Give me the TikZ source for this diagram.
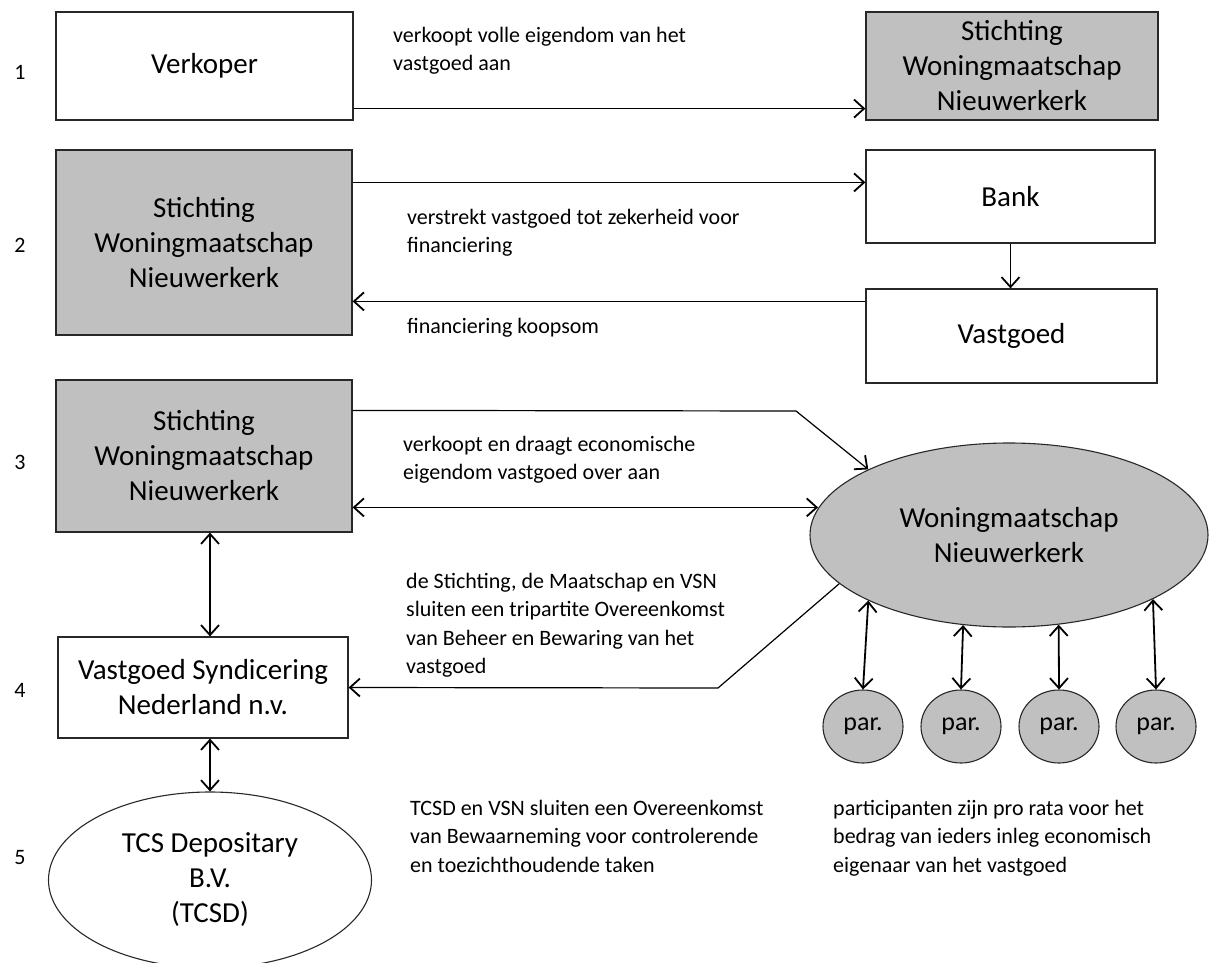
\documentclass[tikz,border=0pt]{standalone}
\usepackage{fontspec}
\setmainfont{Carlito}
\usetikzlibrary{arrows.meta,shapes.geometric}
\definecolor{boxgray}{RGB}{192,192,192}
\definecolor{edge}{RGB}{40,40,40}
\begin{document}
\begin{tikzpicture}[x=1pt,y=-1pt,
  bigfont/.style={font=\fontsize{29}{35}\selectfont},
  box/.style={rectangle, draw=edge, line width=1.2pt, inner sep=0pt, align=center, bigfont, fill=white},
  graybox/.style={box, fill=boxgray},
  oval/.style={ellipse, draw=edge, line width=1.1pt, inner sep=0pt, align=center, bigfont},
  lbl/.style={anchor=north west, align=left, inner sep=0pt, font=\fontsize{22}{28.3}\selectfont},
  num/.style={inner sep=0pt, font=\fontsize{22}{26}\selectfont},
  tip/.style={},
  arr/.style={line width=1.8pt, -{Straight Barb[length=10pt,width=18pt,line width=1.8pt]}},
  arrthin/.style={line width=1.2pt, -{Straight Barb[length=10pt,width=18pt,line width=1.8pt]}},
  dbl/.style={line width=1.8pt, {Straight Barb[length=10pt,width=18pt,line width=1.8pt]}-{Straight Barb[length=10pt,width=18pt,line width=1.8pt]}}
]
\useasboundingbox[fill=white] (0,0) rectangle (1210,963);

% row numbers
\node[num] (n1) at (20,72) {1};
\node[num] (n2) at (20,245) {2};
\node[num] (n3) at (20,462) {3};
\node[num] (n4) at (20,690) {4};
\node[num] (n5) at (20,858) {5};

% row 1
\node[box, minimum width=297pt, minimum height=108pt] (verk) at (204.5,66) {Verkoper};
\node[graybox, minimum width=292pt, minimum height=108pt] (st1) at (1012,66) {Stichting\\Woningmaatschap\\Nieuwerkerk};
\draw[arr] ([yshift=12pt]verk.south east) -- ([yshift=12pt]st1.south west);
\node[lbl] (l1) at (393,27) {verkoopt volle eigendom van het\\vastgoed aan};

% row 2
\node[graybox, minimum width=296pt, minimum height=185pt] (st2) at (204,242.5) {Stichting\\Woningmaatschap\\Nieuwerkerk};
\node[box, minimum width=289pt, minimum height=93pt] (bank) at (1010.5,196.5) {Bank};
\node[box, minimum width=291pt, minimum height=94pt] (vast) at (1011.5,336) {Vastgoed};
\draw[arr] ([yshift=-33pt]st2.north east) -- ([yshift=-33pt]bank.north west);
\draw[arr] (bank.south) -- (bank.south |- vast.north);
\coordinate (v2) at ([yshift=-13pt]vast.north west);
\draw[arr] (v2) -- (v2 -| st2.east);
\node[lbl] (l2) at (407,209) {verstrekt vastgoed tot zekerheid voor\\financiering};
\node[lbl] (l3) at (407,318) {financiering koopsom};

% row 3
\node[graybox, minimum width=296pt, minimum height=152pt] (st3) at (204,456) {Stichting\\Woningmaatschap\\Nieuwerkerk};
\node[oval, fill=boxgray, minimum width=398pt, minimum height=184pt] (wm) at (1009,535) {Woningmaatschap\\Nieuwerkerk};
\coordinate (a3) at ([yshift=-31pt]st3.north east);
\coordinate (k3) at (796,411);
\draw[arrthin] (a3) -- (k3) -- (wm.155);
\coordinate (b3) at ([yshift=-128pt]st3.north east);
\draw[dbl] (b3) -- (b3 -| wm.172);
\node[lbl] (l4) at (403,436) {verkoopt en draagt economische\\eigendom vastgoed over aan};

% row 4
\node[box, minimum width=290pt, minimum height=101pt] (vsn) at (203,687.5) {Vastgoed Syndicering\\Nederland n.v.};
\coordinate (k4) at (718,688);
\draw[arrthin] (wm.196) -- (k4) -- (vsn.east);
\node[lbl] (l5) at (406,573) {de Stichting, de Maatschap en VSN\\sluiten een tripartite Overeenkomst\\van Beheer en Bewaring van het\\vastgoed};

% participants
\node[oval, fill=boxgray, minimum width=80pt, minimum height=73pt, font=\fontsize{26}{30}\selectfont] (p1) at (863,726.5) {par.};
\node[oval, fill=boxgray, minimum width=80pt, minimum height=73pt, font=\fontsize{26}{30}\selectfont] (p2) at (961,726.5) {par.};
\node[oval, fill=boxgray, minimum width=80pt, minimum height=73pt, font=\fontsize{26}{30}\selectfont] (p3) at (1059,726.5) {par.};
\node[oval, fill=boxgray, minimum width=80pt, minimum height=73pt, font=\fontsize{26}{30}\selectfont] (p4) at (1156,726.5) {par.};
\draw[dbl] (wm.205) -- (p1.north);
\draw[dbl] (wm.243) -- (p2.north);
\draw[dbl] (wm.299) -- (p3.north);
\draw[dbl] (wm.336) -- (p4.north);

% row 5
\node[oval, fill=white, minimum width=323pt, minimum height=176pt] (tcsd) at (210,880) {TCS Depositary\\B.V.\\(TCSD)};
\draw[dbl] ([xshift=6pt]st3.south) -- ([xshift=6pt]st3.south |- vsn.north);
\draw[dbl] (tcsd.north |- vsn.south) -- (tcsd.north);
\node[lbl] (l6) at (410,800) {TCSD en VSN sluiten een Overeenkomst\\van Bewaarneming voor controlerende\\en toezichthoudende taken};
\node[lbl] (l7) at (833,800) {participanten zijn pro rata voor het\\bedrag van ieders inleg economisch\\eigenaar van het vastgoed};
\end{tikzpicture}
\end{document}
